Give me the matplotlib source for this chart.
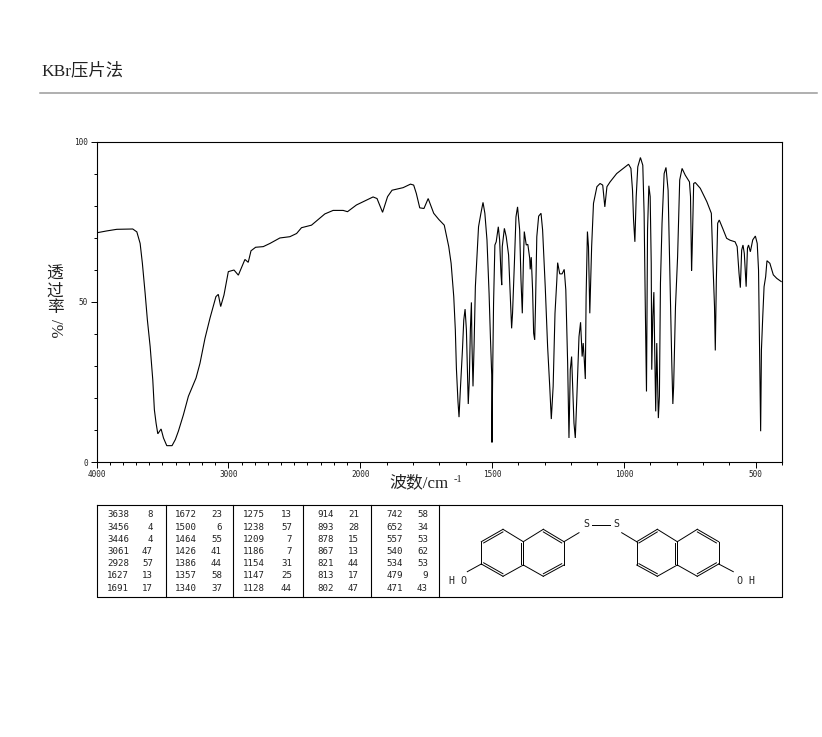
#!/usr/bin/env python
"""IR spectrum (KBr pellet) with peak table and structure drawing."""
import numpy as np
import matplotlib
matplotlib.use("Agg")
import matplotlib.pyplot as plt
from matplotlib.ticker import FixedLocator, MultipleLocator

SERIF = ["Liberation Serif", "Noto Sans CJK SC"]
MONO = "DejaVu Sans Mono"

title = "KBr压片法"

# 4000-1742 cm-1
wn_high = [4000, 3922, 3846, 3725, 3694, 3669, 3652, 3631, 3614, 3593, 3573, 3561, 3548, 3535, 3510, 3492,
           3467, 3427, 3402, 3379, 3341, 3303, 3245, 3215, 3177, 3139, 3094, 3076, 3058, 3033, 3000, 2957,
           2924, 2874, 2849, 2828, 2793, 2735, 2684, 2609, 2533, 2482, 2445, 2369, 2268, 2205, 2129, 2096,
           2028, 1951, 1936, 1915, 1896, 1879, 1837, 1809, 1797, 1787, 1774, 1758, 1742]
t_high = [71.5, 72.1, 72.6, 72.7, 71.8, 68.2, 62.0, 52.6, 44.3, 36.0, 25.6, 16.3, 12.1, 8.8, 10.3, 7.5,
          5.1, 5.1, 7.0, 9.6, 14.7, 20.5, 26.2, 30.8, 38.6, 44.9, 51.6, 52.3, 48.5, 52.1, 59.4, 59.9,
          58.3, 63.2, 62.3, 65.9, 67.0, 67.2, 68.2, 69.9, 70.3, 71.3, 73.1, 73.9, 77.4, 78.5, 78.5, 78.1,
          80.2, 82.7, 82.2, 77.9, 82.8, 84.8, 85.6, 86.7, 86.4, 83.8, 79.3, 79.1, 82.2]

# 1721-1052 cm-1
wn_mid = [1721, 1702, 1681, 1664, 1655, 1645, 1639, 1635, 1629, 1625, 1620, 1612, 1607, 1602, 1597, 1592,
          1590, 1586, 1582, 1578, 1576, 1572, 1568, 1563, 1551, 1542, 1534, 1527, 1519, 1511, 1506, 1501,
          1500, 1497.5, 1494, 1489, 1484, 1476, 1471, 1466, 1463, 1461, 1453, 1446, 1437, 1431, 1425.5, 1422,
          1415, 1409, 1403, 1395, 1390, 1385, 1381, 1377.5, 1370, 1364, 1357, 1355, 1351, 1346, 1342, 1338,
          1335, 1330, 1323, 1314, 1308, 1298, 1289, 1281, 1275, 1268, 1261, 1254, 1251, 1243, 1234, 1226,
          1220, 1213, 1208, 1203, 1198, 1194, 1189, 1184, 1178, 1170, 1164, 1158, 1154, 1150, 1146, 1143,
          1138, 1134, 1129, 1122, 1115, 1102, 1090, 1080, 1072, 1064, 1052]
t_mid = [77.6, 75.7, 73.9, 67.2, 62.0, 51.6, 41.2, 29.3, 18.9, 14.0, 22.5, 35.0, 44.3, 47.7, 41.2, 25.6,
         18.1, 25.6, 41.2, 49.8, 37.1, 23.6, 36.0, 54.7, 73.4, 77.6, 81.0, 77.6, 69.3, 52.6, 39.1, 27.2,
         6.1, 27.2, 49.5, 67.7, 68.7, 73.4, 69.3, 58.9, 55.2, 67.2, 72.9, 70.3, 64.6, 52.6, 41.7, 46.4,
         62.0, 76.5, 79.6, 72.4, 56.8, 46.4, 62.0, 71.9, 67.7, 67.9, 63.6, 60.1, 63.9, 53.7, 40.2, 38.1,
         48.5, 70.3, 76.7, 77.6, 72.4, 54.7, 36.0, 23.6, 13.4, 23.6, 46.4, 56.8, 62.2, 58.7, 58.7, 60.1,
         53.7, 30.8, 7.5, 28.8, 32.9, 23.6, 12.1, 7.5, 20.5, 39.1, 43.6, 32.9, 37.1, 31.9, 25.9, 51.6,
         71.9, 67.2, 46.4, 67.2, 80.7, 85.9, 86.9, 86.4, 79.6, 85.9, 87.4]

# 1027-403 cm-1
wn_low = [1027, 982, 973, 967, 963, 958, 953, 947, 937, 928, 923, 919, 914, 910, 905, 900,
          896, 894, 890, 886, 883, 879, 875, 871, 869, 865, 861, 855, 847, 840, 832, 826,
          822, 818, 814, 811, 804, 796, 788, 779, 767, 751, 747, 743, 741, 735, 729, 710,
          685, 668, 662, 656, 653, 649, 644, 638, 625, 610, 597, 578, 570, 563, 558, 553,
          548, 543, 536, 531, 527, 520, 511, 501, 494, 489, 485, 481, 478, 473, 468, 462,
          457, 446, 433, 420, 403]
t_low = [90.0, 92.9, 91.6, 84.8, 75.5, 68.7, 82.8, 92.1, 95.0, 92.6, 77.6, 51.6, 22.0, 72.4, 86.2, 82.8,
         62.0, 28.8, 45.4, 53.0, 36.0, 15.8, 37.1, 20.5, 13.7, 20.5, 55.8, 74.5, 90.0, 91.9, 84.8, 62.0,
         47.5, 30.8, 18.1, 23.6, 48.5, 64.0, 88.0, 91.6, 89.5, 87.4, 82.8, 59.7, 65.1, 86.9, 87.2, 85.4,
         81.2, 77.6, 62.0, 48.5, 34.8, 56.8, 74.5, 75.5, 72.9, 69.8, 69.2, 68.7, 67.2, 58.9, 54.4, 66.1,
         67.7, 65.1, 54.7, 66.7, 67.7, 65.6, 69.3, 70.5, 68.2, 59.9, 35.0, 9.6, 35.0, 45.4, 54.7, 57.8,
         62.8, 62.0, 58.4, 57.3, 56.3]

x_major = [4000, 3000, 2000, 1500, 1000, 500]
y_major = [0, 50, 100]

# peak table, one list pair per column block
peak_wn = [[3638, 3456, 3446, 3061, 2928, 1627, 1691],
           [1672, 1500, 1464, 1426, 1386, 1357, 1340],
           [1275, 1238, 1209, 1186, 1154, 1147, 1128],
           [914, 893, 878, 867, 821, 813, 802],
           [742, 652, 557, 540, 534, 479, 471]]
peak_t = [[8, 4, 4, 47, 57, 13, 17],
          [23, 6, 55, 41, 44, 58, 37],
          [13, 57, 7, 7, 31, 25, 44],
          [21, 28, 15, 13, 44, 17, 47],
          [58, 34, 53, 62, 53, 9, 43]]


def _fwd(w):
    # the scale doubles below 2000 cm-1
    w = np.asarray(w, dtype=float)
    return np.where(w >= 2000, w, 2000 - (2000 - w) * 2)


def _inv(p):
    p = np.asarray(p, dtype=float)
    return np.where(p >= 2000, p, 2000 - (2000 - p) / 2)


def draw_ring(ax, pts, doubles):
    # pts in pixel coords, doubles = indices of bonds with an inner second line
    pts = np.array(pts, dtype=float)
    c = pts.mean(axis=0)
    for i in range(len(pts)):
        a, b = pts[i], pts[(i + 1) % len(pts)]
        ax.plot([a[0], b[0]], [a[1], b[1]], color="k", lw=0.7)
        if i in doubles:
            a2 = a + (c - a) * 0.11
            b2 = b + (c - b) * 0.11
            ax.plot([a2[0], b2[0]], [a2[1], b2[1]], color="k", lw=0.7)


fig = plt.figure(figsize=(8.22, 7.37), dpi=100)

# full-figure overlay in pixel coords for the page furniture
page = fig.add_axes([0, 0, 1, 1])
page.set_xlim(0, 822)
page.set_ylim(737, 0)
page.axis("off")

page.text(41, 71, title, family=SERIF, fontsize=12.5, va="center", ha="left", color="#222222")
page.plot([40, 817], [93, 93], color="#9a9a9a", lw=1.1)

# stacked y label
for ch, y in zip("透过率", [275, 292, 308]):
    page.text(55, y, ch, family=SERIF, fontsize=12, ha="center", va="center", color="#222222")
page.text(55, 328, "/%", family=SERIF, fontsize=12, ha="center", va="center", rotation=-90, color="#222222")

# x label
page.text(389.5, 483, "波数/cm", family=SERIF, fontsize=12.2, ha="left", va="center", color="#222222")
page.text(454, 479, "-1", family=SERIF, fontsize=7.5, ha="left", va="center", color="#222222")

# table frame
page.plot([96.5, 781.5, 781.5, 96.5, 96.5], [505, 505, 597, 597, 505], color="k", lw=0.8)
for xv in [165.7, 233, 302.7, 370.7, 439.3]:
    page.plot([xv, xv], [505, 597], color="k", lw=0.8)

row_y = [514.7, 527, 539.3, 551.7, 563.7, 576, 588.3]
wn_right = [129, 197, 265, 334, 403]
t_right = [153, 222, 292, 359, 428]
for wns, ts, xw, xt in zip(peak_wn, peak_t, wn_right, t_right):
    for w, t, y in zip(wns, ts, row_y):
        page.text(xw, y, str(w), family=MONO, fontsize=6.6, ha="right", va="center", color="#222222")
        page.text(xt, y, str(t), family=MONO, fontsize=6.6, ha="right", va="center", color="#222222")

# structure
ring_a = [(481.3, 541.7), (503, 529.3), (523.3, 541.7), (523.3, 565), (503, 576.3), (481.3, 564)]
ring_b = [(523.3, 541.7), (543.3, 529.3), (564, 541.7), (564, 565), (543.3, 576.3), (523.3, 565)]
ring_c = [(636.7, 541.7), (657.3, 529.3), (677.3, 541.7), (677.3, 565), (657.3, 576.3), (636.7, 565)]
ring_d = [(677.3, 541.7), (697.3, 529.3), (718.7, 541.7), (718.7, 564), (697.3, 576.3), (677.3, 565)]
draw_ring(page, ring_a, {0, 2, 4})
draw_ring(page, ring_b, {1, 3})
draw_ring(page, ring_c, {0, 2, 4})
draw_ring(page, ring_d, {1, 3})
for x0, y0, x1, y1 in [(564, 541.7, 579, 532.7), (592.3, 525, 610, 525), (621.7, 532.7, 636.7, 541.7),
                       (481.3, 564, 467.3, 571.7), (718.7, 564, 733.3, 571.7)]:
    page.plot([x0, x1], [y0, y1], color="k", lw=0.7)
for x0, y0, s in [(586.7, 524.3, "S"), (616.7, 524.3, "S"), (457.7, 581, "H O"), (745.7, 581, "O H")]:
    page.text(x0, y0, s, family=MONO, fontsize=7.2, ha="center", va="center", color="#222222")

# spectrum
ax = fig.add_axes([96.5 / 822, 1 - 462 / 737, (782 - 96.5) / 822, (462 - 141.5) / 737])
ax.patch.set_alpha(0)
ax.set_xscale("function", functions=(_fwd, _inv))
ax.set_xlim(4000, 400)
ax.set_ylim(0, 100)

wn = np.concatenate([wn_high, wn_mid, wn_low])
trans = np.concatenate([t_high, t_mid, t_low])
ax.plot(wn, trans, color="k", lw=0.8, solid_joinstyle="miter")

ax.xaxis.set_major_locator(FixedLocator(x_major))
ax.xaxis.set_minor_locator(MultipleLocator(100))
ax.xaxis.set_major_formatter(lambda v, pos: f"{v:.0f}")
ax.xaxis.set_minor_formatter(lambda v, pos: "")
ax.yaxis.set_major_locator(FixedLocator(y_major))
ax.yaxis.set_minor_locator(MultipleLocator(10))
ax.yaxis.set_major_formatter(lambda v, pos: f"{v:.0f}")
ax.tick_params(axis="both", which="major", length=4, width=0.7, labelsize=5.6, pad=2, labelcolor="#222222")
ax.tick_params(axis="both", which="minor", length=2, width=0.7)
for lab in ax.get_xticklabels() + ax.get_yticklabels():
    lab.set_family(MONO)
for sp in ax.spines.values():
    sp.set_linewidth(0.8)

fig.savefig("out.png", dpi=100)
